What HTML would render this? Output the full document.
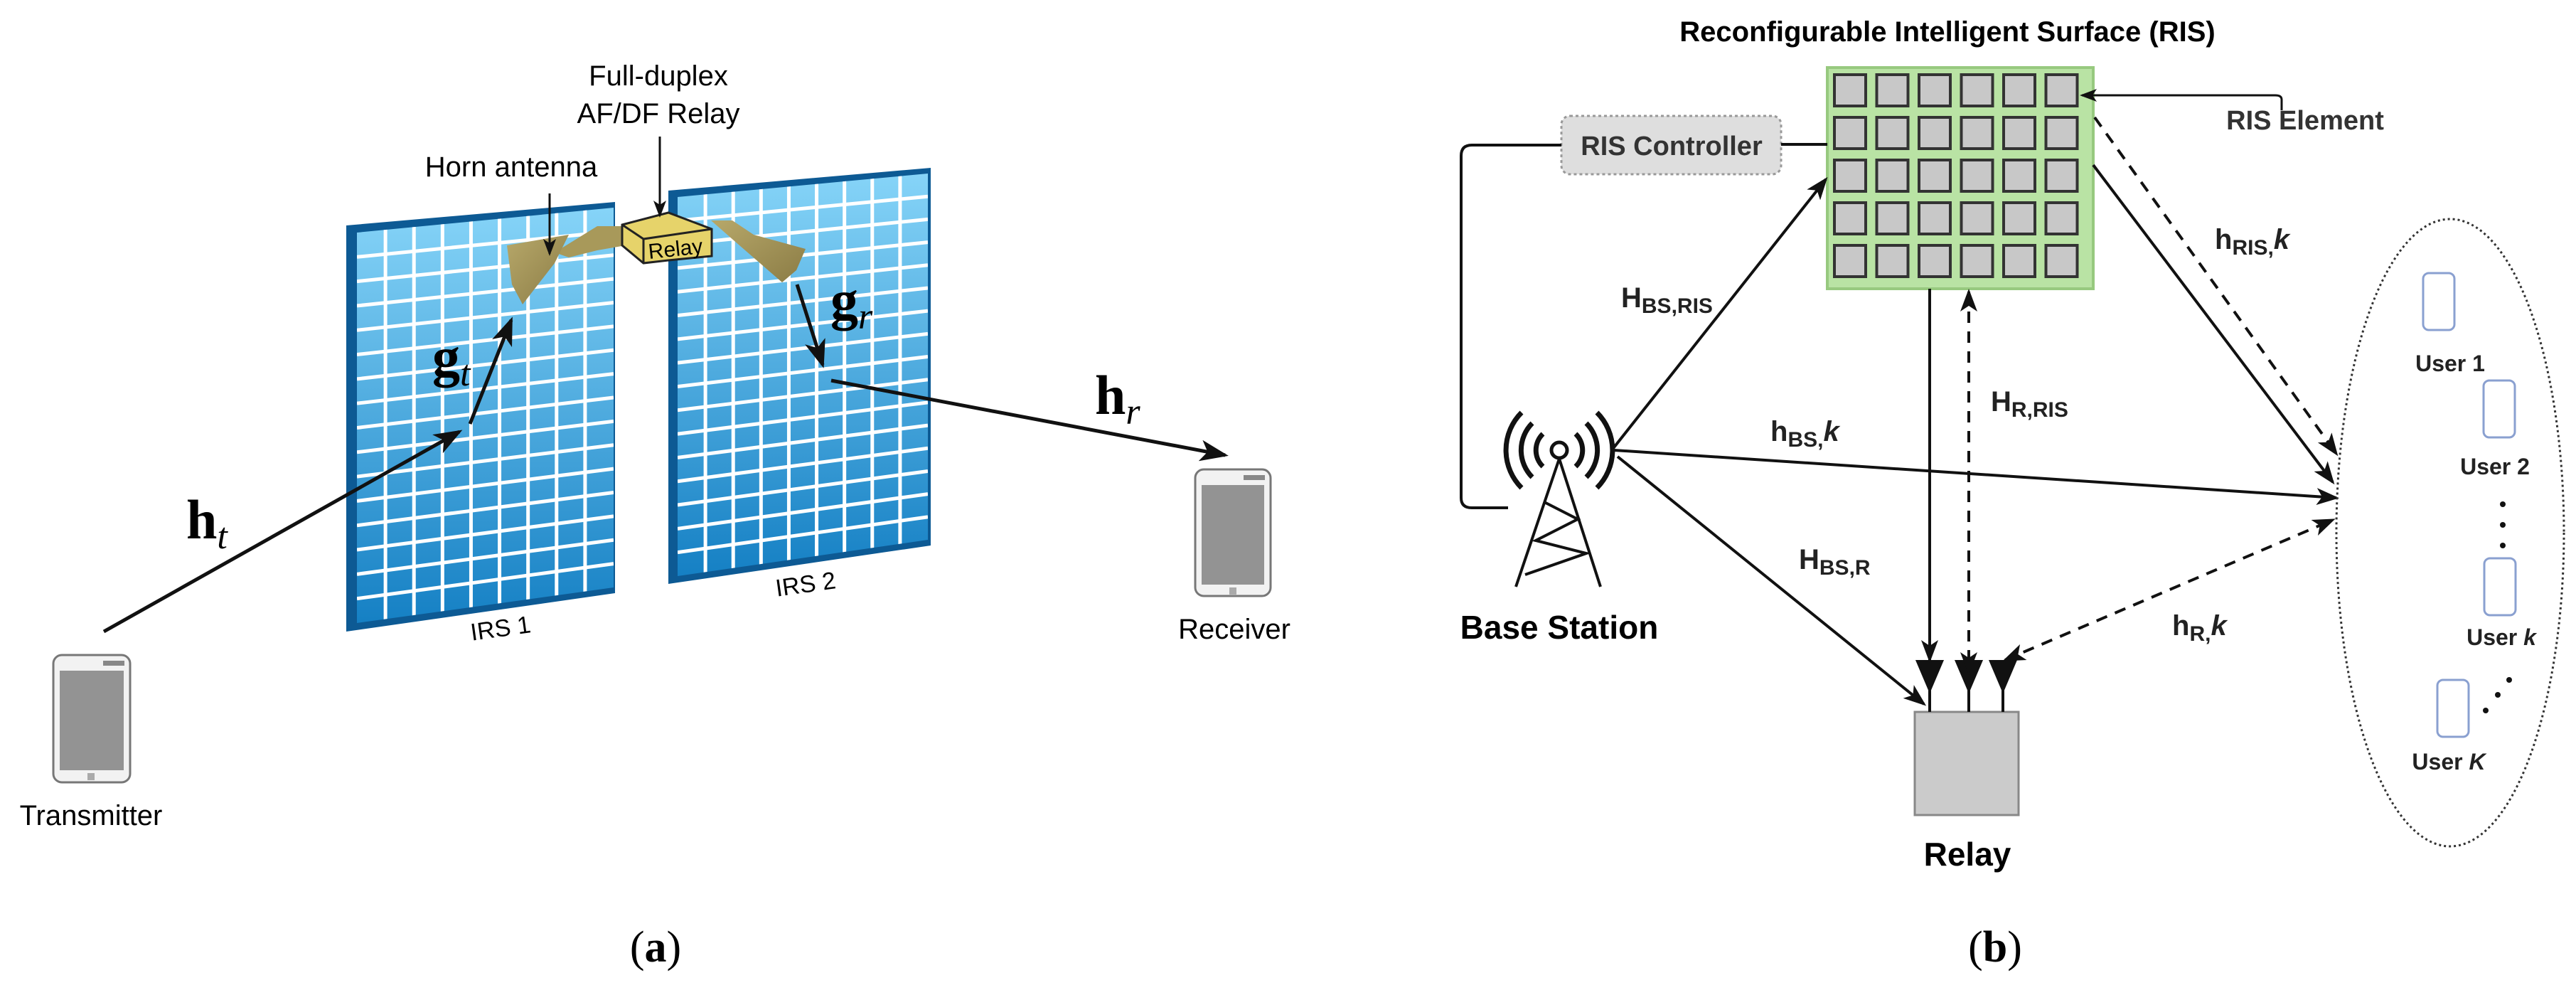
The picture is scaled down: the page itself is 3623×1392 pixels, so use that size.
<!DOCTYPE html>
<html><head><meta charset="utf-8"><style>
html,body{margin:0;padding:0;background:#fff;}
svg{display:block;}
text{font-family:"Liberation Sans",sans-serif;}
.b{font-weight:bold;}
.m{font-family:"Liberation Serif",serif;}
</style></head><body>
<svg id="s" width="3623" height="1392" viewBox="0 0 3623 1392" xmlns="http://www.w3.org/2000/svg">
<defs>
<linearGradient id="blue" x1="0" y1="0" x2="0" y2="1">
<stop offset="0" stop-color="#86d4f8"/><stop offset="1" stop-color="#1580c4"/></linearGradient>
<linearGradient id="horn" x1="0" y1="0" x2="1" y2="1">
<stop offset="0" stop-color="#b7a86a"/><stop offset="1" stop-color="#8b7c45"/></linearGradient>
<marker id="ar" markerWidth="8" markerHeight="6" refX="7" refY="3" orient="auto" markerUnits="strokeWidth">
<path d="M0,0 L8,3 L0,6 L2,3 z" fill="#111"/></marker>
<marker id="as" markerWidth="8" markerHeight="6" refX="1" refY="3" orient="auto" markerUnits="strokeWidth">
<path d="M8,0 L0,3 L8,6 L6,3 z" fill="#111"/></marker>
<clipPath id="c1"><polygon points="502,327 863,292 863,826 502,876"/></clipPath>
<clipPath id="c2"><polygon points="953,277 1305,244 1305,759 953,810"/></clipPath>
</defs>

<polygon points="487,317 865,284 865,834 487,888" fill="#0d5a94"/>
<polygon points="502,327 863,292 863,826 502,876" fill="url(#blue)"/>
<g id="g1" clip-path="url(#c1)" stroke="#fff" stroke-width="5"></g>
<polygon points="940,268 1309,236 1309,767 940,821" fill="#0d5a94"/>
<polygon points="953,277 1305,244 1305,759 953,810" fill="url(#blue)"/>
<g id="g2" clip-path="url(#c2)" stroke="#fff" stroke-width="5"></g>

<polygon points="840,318 880,318 880,345 840,352 800,362 780,355" fill="#a8995a"/>
<polygon points="713,345 800,330 780,370 735,428 720,400" fill="url(#horn)"/>
<polygon points="1000,310 1030,310 1060,330 1133,350 1120,380 1100,397 1040,345" fill="url(#horn)"/>
<polygon points="875,316 940,299 1001,322 1001,360 940,366 905,370 875,345" fill="#e6d36a" stroke="#222" stroke-width="3"/>
<polyline points="875,316 905,336 1001,322" fill="none" stroke="#222" stroke-width="3"/>
<line x1="905" y1="336" x2="905" y2="370" stroke="#222" stroke-width="3"/>
<text x="950" y="360" font-size="30" text-anchor="middle" transform="rotate(-6 950 350)">Relay</text>

<text x="926" y="120" font-size="40" text-anchor="middle">Full-duplex</text>
<text x="926" y="173" font-size="40" text-anchor="middle">AF/DF Relay</text>
<text x="719" y="248" font-size="40" text-anchor="middle">Horn antenna</text>
<line x1="928" y1="192" x2="928" y2="303" stroke="#111" stroke-width="3" marker-end="url(#ar)"/>
<line x1="773" y1="272" x2="773" y2="357" stroke="#111" stroke-width="3" marker-end="url(#ar)"/>

<line x1="146" y1="888" x2="646" y2="607" stroke="#111" stroke-width="5" marker-end="url(#ar)"/>
<line x1="661" y1="596" x2="719" y2="450" stroke="#111" stroke-width="5" marker-end="url(#ar)"/>
<line x1="1121" y1="400" x2="1157" y2="513" stroke="#111" stroke-width="5" marker-end="url(#ar)"/>
<line x1="1169" y1="535" x2="1723" y2="640" stroke="#111" stroke-width="5" marker-end="url(#ar)"/>
<text x="262" y="757" font-size="78" class="m b">h<tspan font-size="52" font-style="italic" font-weight="normal" dy="14">t</tspan></text>
<text x="608" y="528" font-size="78" class="m b">g<tspan font-size="52" font-style="italic" font-weight="normal" dy="14">t</tspan></text>
<text x="1168" y="448" font-size="78" class="m b">g<tspan font-size="52" font-style="italic" font-weight="normal" dy="14">r</tspan></text>
<text x="1540" y="582" font-size="78" class="m b">h<tspan font-size="52" font-style="italic" font-weight="normal" dy="14">r</tspan></text>

<text x="704" y="895" font-size="34" text-anchor="middle" transform="rotate(-8 704 883)">IRS 1</text>
<text x="1133" y="833" font-size="34" text-anchor="middle" transform="rotate(-8 1133 821)">IRS 2</text>

<g transform="translate(75,921)">
<rect x="0" y="0" width="108" height="179" rx="12" fill="#f2f2f2" stroke="#777" stroke-width="3"/>
<rect x="9" y="22" width="90" height="140" fill="#939393"/>
<rect x="70" y="8" width="30" height="7" fill="#888"/>
<rect x="48" y="166" width="10" height="10" fill="#aaa"/>
</g>
<g transform="translate(1681,660)">
<rect x="0" y="0" width="106" height="178" rx="12" fill="#f2f2f2" stroke="#777" stroke-width="3"/>
<rect x="9" y="22" width="88" height="140" fill="#939393"/>
<rect x="68" y="8" width="30" height="7" fill="#888"/>
<rect x="48" y="166" width="10" height="10" fill="#aaa"/>
</g>
<text x="128" y="1160" font-size="40" text-anchor="middle">Transmitter</text>
<text x="1736" y="898" font-size="40" text-anchor="middle">Receiver</text>
<text x="922" y="1352" font-size="62" text-anchor="middle" class="m">(<tspan font-weight="bold">a</tspan>)</text>

<text x="2739" y="58" font-size="40" text-anchor="middle" class="b">Reconfigurable Intelligent Surface (RIS)</text>
<rect x="2570" y="95" width="374" height="311" fill="#b9e3a4" stroke="#97c97f" stroke-width="4"/>
<g id="cells"></g>

<rect x="2196" y="163" width="309" height="82" rx="12" fill="#dedede" stroke="#999" stroke-width="3" stroke-dasharray="4 4"/>
<text x="2351" y="218" font-size="38" text-anchor="middle" class="b" fill="#333">RIS Controller</text>
<line x1="2505" y1="203" x2="2570" y2="203" stroke="#111" stroke-width="4"/>
<path d="M2196,204 L2070,204 Q2055,204 2055,219 L2055,700 Q2055,714 2070,714 L2121,714" fill="none" stroke="#111" stroke-width="4"/>

<text x="3242" y="182" font-size="38" text-anchor="middle" class="b" fill="#333">RIS Element</text>
<path d="M3209,155 L3209,140 Q3209,134 3200,134 L2928,134" fill="none" stroke="#111" stroke-width="3" marker-end="url(#ar)"/>

<g stroke="#111" stroke-width="7" fill="none">
<circle cx="2193" cy="633" r="11" stroke-width="5"/>
<path d="M2170,610 A32,32 0 0 0 2170,656"/><path d="M2216,610 A32,32 0 0 1 2216,656"/>
<path d="M2155,595 A54,54 0 0 0 2155,671"/><path d="M2231,595 A54,54 0 0 1 2231,671"/>
<path d="M2140,580 A75,75 0 0 0 2140,686"/><path d="M2246,580 A75,75 0 0 1 2246,686"/>
</g>
<g stroke="#111" stroke-width="4" fill="none">
<path d="M2193,645 L2132,825 M2193,645 L2251,825"/>
<path d="M2172,706 L2219,730 L2160,760 L2231,778 L2145,808"/>
</g>
<text x="2193" y="898" font-size="46" text-anchor="middle" class="b">Base Station</text>

<rect x="2693" y="1001" width="146" height="145" fill="#cbcbcb" stroke="#888" stroke-width="3"/>
<g fill="#111" stroke="#111" stroke-width="4">
<line x1="2714" y1="950" x2="2714" y2="1001"/><line x1="2769" y1="950" x2="2769" y2="1001"/><line x1="2817" y1="950" x2="2817" y2="1001"/>
<polygon points="2697,930 2731,930 2714,970"/><polygon points="2752,930 2786,930 2769,970"/><polygon points="2800,930 2834,930 2817,970"/>
</g>
<text x="2767" y="1217" font-size="46" text-anchor="middle" class="b">Relay</text>

<g stroke="#111" stroke-width="4" fill="none">
<line x1="2270" y1="629" x2="2568" y2="252" marker-end="url(#ar)"/>
<line x1="2270" y1="633" x2="3286" y2="700" marker-end="url(#ar)"/>
<line x1="2275" y1="642" x2="2706" y2="990" marker-end="url(#ar)"/>
<line x1="2714" y1="406" x2="2714" y2="928" marker-end="url(#ar)"/>
<line x1="2944" y1="232" x2="3281" y2="678" marker-end="url(#ar)"/>
<line x1="2769" y1="410" x2="2769" y2="945" stroke-dasharray="16 12" marker-end="url(#ar)" marker-start="url(#as)"/>
<line x1="2946" y1="165" x2="3286" y2="638" stroke-dasharray="16 12" marker-end="url(#ar)"/>
<line x1="2820" y1="928" x2="3281" y2="731" stroke-dasharray="16 12" marker-end="url(#ar)" marker-start="url(#as)"/>
</g>
<text x="2280" y="432" font-size="40" class="b" fill="#222">H<tspan font-size="30" dy="8">BS,RIS</tspan></text>
<text x="2490" y="620" font-size="40" class="b" fill="#222">h<tspan font-size="30" dy="8">BS,</tspan><tspan font-style="italic" font-size="40" dy="-8">k</tspan></text>
<text x="2530" y="800" font-size="40" class="b" fill="#222">H<tspan font-size="30" dy="8">BS,R</tspan></text>
<text x="2800" y="578" font-size="40" class="b" fill="#222">H<tspan font-size="30" dy="8">R,RIS</tspan></text>
<text x="3115" y="350" font-size="40" class="b" fill="#222">h<tspan font-size="30" dy="8">RIS,</tspan><tspan font-style="italic" font-size="40" dy="-8">k</tspan></text>
<text x="3055" y="893" font-size="40" class="b" fill="#222">h<tspan font-size="30" dy="8">R,</tspan><tspan font-style="italic" font-size="40" dy="-8">k</tspan></text>

<ellipse cx="3446" cy="749" rx="160" ry="441" fill="none" stroke="#333" stroke-width="3" stroke-dasharray="3 4"/>
<g fill="#fff" stroke="#8aa0d0" stroke-width="3">
<rect x="3408" y="384" width="44" height="80" rx="8"/>
<rect x="3493" y="535" width="44" height="80" rx="8"/>
<rect x="3494" y="785" width="44" height="80" rx="8"/>
<rect x="3428" y="956" width="44" height="80" rx="8"/>
</g>
<g font-size="32" class="b" text-anchor="middle" fill="#222">
<text x="3446" y="522">User 1</text>
<text x="3509" y="667">User 2</text>
<text x="3518" y="907">User <tspan font-style="italic">k</tspan></text>
<text x="3444" y="1082">User <tspan font-style="italic">K</tspan></text>
</g>
<g fill="#111"><circle cx="3520" cy="709" r="4"/><circle cx="3520" cy="738" r="4"/><circle cx="3520" cy="767" r="4"/>
<circle cx="3496" cy="999" r="4"/><circle cx="3513" cy="977" r="4"/><circle cx="3529" cy="956" r="4"/></g>

<text x="2806" y="1352" font-size="62" text-anchor="middle" class="m">(<tspan font-weight="bold">b</tspan>)</text>
</svg>
<script>
var NS="http://www.w3.org/2000/svg";
function ln(g,x1,y1,x2,y2){var l=document.createElementNS(NS,"line");l.setAttribute("x1",x1);l.setAttribute("y1",y1);l.setAttribute("x2",x2);l.setAttribute("y2",y2);g.appendChild(l);}
function panel(id,x0,x1,ytl,ytr,ybl,ybr,cols,rows){
 var g=document.getElementById(id);
 for(var i=1;i<cols;i++){var x=x0+(x1-x0)*i/cols;ln(g,x,0,x,1000);}
 for(var j=1;j<rows;j++){var f=j/rows;ln(g,x0,ytl+(ybl-ytl)*f,x1,ytr+(ybr-ytr)*f);}
}
panel("g1",502,863,327,292,876,826,9,16);
panel("g2",953,1305,277,244,810,759,9,16);
var c=document.getElementById("cells");
for(var r=0;r<5;r++)for(var k=0;k<6;k++){var e=document.createElementNS(NS,"rect");
e.setAttribute("x",2580+k*59.5);e.setAttribute("y",105+r*60);e.setAttribute("width",44);e.setAttribute("height",44);
e.setAttribute("fill","#c8c8c8");e.setAttribute("stroke","#333");e.setAttribute("stroke-width","4");c.appendChild(e);}
</script>
</body></html>
